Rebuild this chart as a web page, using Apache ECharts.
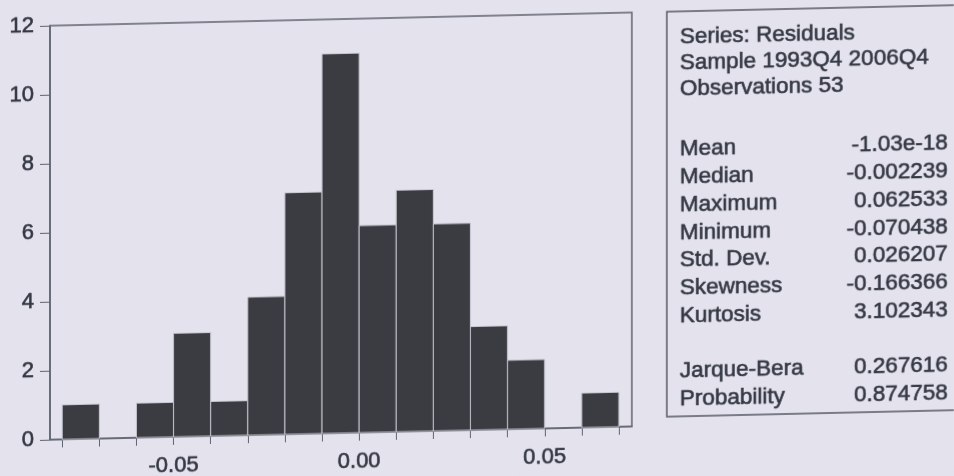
<!DOCTYPE html>
<html>
<head>
<meta charset="utf-8">
<script src="https://cdn.jsdelivr.net/npm/echarts@6/dist/echarts.min.js"></script>
<style>
html,body{margin:0;padding:0;background:#e4e3ed;overflow:hidden}
#chart{width:954px;height:476px;transform:skewY(-1.3deg);transform-origin:50% 50%}
</style>
</head>
<body>
<div id="chart"></div>
<script>
// histogram of residuals, bin edges + counts
var binEdges = [-0.08,-0.07,-0.06,-0.05,-0.04,-0.03,-0.02,-0.01,0,0.01,0.02,0.03,0.04,0.05,0.06,0.07];
var binCounts = [1,0,1,3,1,4,7,11,6,7,6,3,2,0,1];
var xTickValues = [-0.08,-0.07,-0.06,-0.05,-0.04,-0.03,-0.02,-0.01,0,0.01,0.02,0.03,0.04,0.05,0.06,0.07];
var xLabelValues = [-0.05,0,0.05];

var headerLines = ['Series: Residuals','Sample 1993Q4 2006Q4','Observations 53'];
var statNames = ['Mean','Median','Maximum','Minimum','Std. Dev.','Skewness','Kurtosis'];
var statValues = ['-1.03e-18','-0.002239','0.062533','-0.070438','0.026207','-0.166366','3.102343'];
var testNames = ['Jarque-Bera','Probability'];
var testValues = ['0.267616','0.874758'];

var txtColor = '#343844';
var txtFont = '22.5px "Liberation Sans", Arial, sans-serif';
var axisColor = '#5f6470';

var chart = echarts.init(document.getElementById('chart'));

var barData = [];
for (var i = 0; i < binCounts.length; i++) {
	if (binCounts[i] > 0) barData.push([binEdges[i], binEdges[i+1], binCounts[i]]);
}

// stats box
var boxEls = [{
	type: 'rect',
	shape: {x: 667, y: 16, width: 400, height: 405},
	style: {fill: 'none', stroke: '#555a64', lineWidth: 1.5}
}];
function addText(str, x, y, align) {
	boxEls.push({
		type: 'text',
		style: {text: str, x: x, y: y, font: txtFont, fill: txtColor,
			stroke: txtColor, lineWidth: 0.6,
			textAlign: align, textVerticalAlign: 'middle'}
	});
}
headerLines.forEach(function(s, k){ addText(s, 680, 42 + k*26, 'left'); });
statNames.forEach(function(s, k){
	addText(s, 680, 154 + k*27.8, 'left');
	addText(statValues[k], 948, 154 + k*27.8, 'right');
});
testNames.forEach(function(s, k){
	addText(s, 680, 376 + k*28, 'left');
	addText(testValues[k], 948, 376 + k*28, 'right');
});

var labelStyle = {
	fontSize: 22, fontFamily: '"Liberation Sans", Arial', color: txtColor,
	textBorderColor: txtColor, textBorderWidth: 0.6
};

var option = {
	backgroundColor: '#e4e3ed',
	animation: false,
	grid: {
		left: 50, right: 322, top: 16, bottom: 46,
		show: true, borderColor: axisColor, borderWidth: 1.5
	},
	xAxis: {
		type: 'value',
		min: -0.0833, max: 0.0735,
		splitLine: {show: false},
		axisLine: {show: true, onZero: false, lineStyle: {color: axisColor, width: 1.5}},
		axisTick: {show: true, length: 8, customValues: xTickValues, lineStyle: {color: axisColor}},
		axisLabel: Object.assign({
			customValues: xLabelValues, margin: 18,
			formatter: function(v){ return v.toFixed(2); }
		}, labelStyle)
	},
	yAxis: {
		type: 'value',
		min: 0, max: 12, interval: 2,
		splitLine: {show: false},
		axisLine: {show: true, onZero: false, lineStyle: {color: axisColor, width: 1.5}},
		axisTick: {show: true, length: 10, lineStyle: {color: axisColor}},
		axisLabel: Object.assign({margin: 16}, labelStyle)
	},
	series: [{
		type: 'custom',
		data: barData,
		encode: {x: [0, 1], y: 2},
		renderItem: function(params, api){
			var p0 = api.coord([api.value(0), 0]);
			var p1 = api.coord([api.value(1), api.value(2)]);
			return {
				type: 'rect',
				shape: {x: p0[0], y: p1[1], width: p1[0] - p0[0], height: p0[1] - p1[1]},
				style: {fill: '#3b3c41', stroke: '#c4c6d0', lineWidth: 1}
			};
		}
	}],
	graphic: boxEls
};

chart.setOption(option);
</script>
</body>
</html>
